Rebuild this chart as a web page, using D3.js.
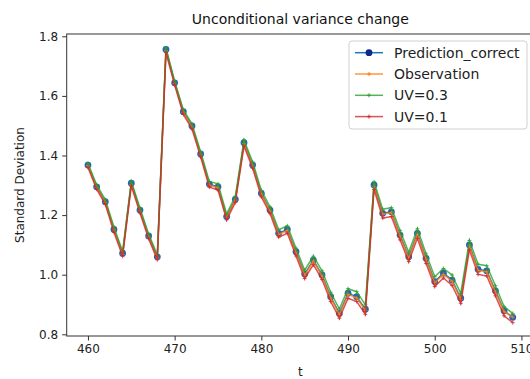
<!DOCTYPE html>
<html>
<head>
<meta charset="utf-8">
<script src="https://cdn.jsdelivr.net/npm/d3@7"></script>
<style>
  body { margin: 0; background: #fff; }
  svg { font-family: 'DejaVu Sans', sans-serif; display: block; }
</style>
</head>
<body>
<svg width="530" height="379"></svg>
<script>
// data
const tValues = d3.range(460, 510);
const predictionCorrect = [1.368,1.295,1.245,1.152,1.072,1.307,1.217,1.130,1.060,1.756,
  1.644,1.547,1.499,1.405,1.304,1.295,1.195,1.253,1.443,1.368,
  1.273,1.217,1.139,1.152,1.077,1.002,1.049,0.999,0.926,0.870,
  0.938,0.926,0.884,1.301,1.206,1.211,1.133,1.060,1.139,1.055,
  0.977,1.005,0.982,0.921,1.100,1.018,1.013,0.946,0.879,0.857];
const observation = [1.366,1.293,1.242,1.150,1.068,1.303,1.214,1.127,1.056,1.752,
  1.641,1.545,1.496,1.402,1.300,1.292,1.192,1.250,1.440,1.365,
  1.270,1.214,1.135,1.148,1.073,0.998,1.046,0.995,0.922,0.866,
  0.934,0.922,0.880,1.297,1.203,1.208,1.129,1.056,1.135,1.051,
  0.973,1.001,0.978,0.917,1.096,1.014,1.010,0.942,0.876,0.858];
const uv03 = [1.374,1.302,1.252,1.160,1.078,1.314,1.224,1.137,1.066,1.761,
  1.650,1.554,1.506,1.413,1.313,1.305,1.204,1.263,1.452,1.378,
  1.283,1.228,1.151,1.164,1.089,1.015,1.062,1.013,0.941,0.885,
  0.953,0.943,0.899,1.312,1.220,1.225,1.148,1.075,1.154,1.070,
  0.993,1.021,0.999,0.937,1.115,1.035,1.030,0.963,0.893,0.870];
const uv01 = [1.360,1.287,1.236,1.142,1.062,1.298,1.207,1.121,1.050,1.745,
  1.636,1.538,1.489,1.395,1.294,1.284,1.184,1.242,1.431,1.357,
  1.261,1.205,1.126,1.139,1.063,0.987,1.034,0.984,0.910,0.854,
  0.921,0.910,0.867,1.286,1.190,1.195,1.117,1.044,1.122,1.038,
  0.960,0.989,0.964,0.904,1.083,1.001,0.996,0.929,0.862,0.839];
const seriesNames = ['Prediction_correct', 'Observation', 'UV=0.3', 'UV=0.1'];
const xTicks = [460, 470, 480, 490, 500, 510];
const yTicks = [0.8, 1.0, 1.2, 1.4, 1.6, 1.8];

const svg = d3.select('svg');
const margin = {top: 34, left: 66.7, bottom: 336, right: 534};

const series = [
  {name: seriesNames[0], values: predictionCorrect, color: '#1f77b4', marker: 'dot'},
  {name: seriesNames[1], values: observation, color: '#ff7f0e', marker: 'plus'},
  {name: seriesNames[2], values: uv03, color: '#2ca02c', marker: 'plus'},
  {name: seriesNames[3], values: uv01, color: '#d62728', marker: 'plus'}
];

const xScale = d3.scaleLinear()
  .domain([457.55, 511.45])
  .range([margin.left, margin.right]);

const yScale = d3.scaleLinear()
  .domain([0.7943, 1.8077])
  .range([margin.bottom, margin.top]);

const line = d3.line()
  .x((d, i) => xScale(tValues[i]))
  .y(d => yScale(d));

// series lines
series.forEach(s => {
  const g = svg.append('g');
  g.append('path')
    .datum(s.values)
    .attr('d', line)
    .attr('fill', 'none')
    .attr('stroke', s.color)
    .attr('stroke-width', 1.5)
    .attr('stroke-opacity', s.marker == 'dot' ? 1 : 0.8);

  if (s.marker == 'dot') {
    g.selectAll('circle')
      .data(s.values)
      .enter()
        .append('circle')
        .attr('cx', (d, i) => xScale(tValues[i]))
        .attr('cy', d => yScale(d))
        .attr('r', 3.4)
        .attr('fill', '#2566b2');
  } else {
    g.selectAll('path.plus')
      .data(s.values)
      .enter()
        .append('path')
        .attr('class', 'plus')
        .attr('d', (d, i) => {
          const x = xScale(tValues[i]), y = yScale(d);
          return `M${x - 2},${y}H${x + 2}M${x},${y - 2}V${y + 2}`;
        })
        .attr('stroke', s.color)
        .attr('stroke-opacity', 0.8)
        .attr('stroke-width', 1);
  }
});

// axes
const xAxis = svg.append('g')
  .attr('transform', `translate(0,${margin.bottom})`)
  .call(d3.axisBottom(xScale).tickValues(xTicks).tickSize(4.5).tickPadding(4).tickFormat(d3.format('d')));

const yAxis = svg.append('g')
  .attr('transform', `translate(${margin.left},0)`)
  .call(d3.axisLeft(yScale).tickValues(yTicks).tickSize(4.5).tickPadding(4).tickFormat(d3.format('.1f')));

[xAxis, yAxis].forEach(ax => {
  ax.select('.domain').remove();
  ax.selectAll('.tick line').attr('stroke', '#333').attr('stroke-width', 1);
  ax.selectAll('.tick text').attr('fill', '#222').style('font-size', '12px').style('font-family', 'DejaVu Sans');
});

// frame
svg.append('rect')
  .attr('x', margin.left)
  .attr('y', margin.top)
  .attr('width', margin.right - margin.left)
  .attr('height', margin.bottom - margin.top)
  .attr('fill', 'none')
  .attr('stroke', '#333')
  .attr('stroke-width', 1);

// labels
svg.append('text')
  .attr('x', (margin.left + margin.right) / 2)
  .attr('y', 24)
  .attr('text-anchor', 'middle')
  .style('font-size', '14px')
  .attr('fill', '#111')
  .text('Unconditional variance change');

svg.append('text')
  .attr('x', (margin.left + margin.right) / 2)
  .attr('y', 376)
  .attr('text-anchor', 'middle')
  .style('font-size', '12px')
  .attr('fill', '#222')
  .text('t');

svg.append('text')
  .attr('transform', `translate(24,${(margin.top + margin.bottom) / 2}) rotate(-90)`)
  .attr('text-anchor', 'middle')
  .style('font-size', '12px')
  .attr('fill', '#222')
  .text('Standard Deviation');

// legend
const legend = svg.append('g').attr('transform', 'translate(349,41)');
legend.append('rect')
  .attr('width', 178)
  .attr('height', 88)
  .attr('rx', 3)
  .attr('fill', '#fff')
  .attr('fill-opacity', 0.8)
  .attr('stroke', '#d0d0d0');

series.forEach((s, i) => {
  const y = 11.7 + i * 21.3;
  legend.append('line')
    .attr('x1', 6).attr('x2', 34)
    .attr('y1', y).attr('y2', y)
    .attr('stroke', s.color)
    .attr('stroke-opacity', s.marker == 'dot' ? 1 : 0.8)
    .attr('stroke-width', 1.5);
  if (s.marker == 'dot') {
    legend.append('circle').attr('cx', 20).attr('cy', y).attr('r', 3.4).attr('fill', '#0d2a8a');
  } else {
    legend.append('path')
      .attr('d', `M18,${y}H22M20,${y - 2}V${y + 2}`)
      .attr('stroke', s.color)
      .attr('stroke-width', 1);
  }
  legend.append('text')
    .attr('x', 45)
    .attr('y', y + 5)
    .style('font-size', '14px')
    .attr('fill', '#222')
    .text(s.name);
});
</script>
</body>
</html>
